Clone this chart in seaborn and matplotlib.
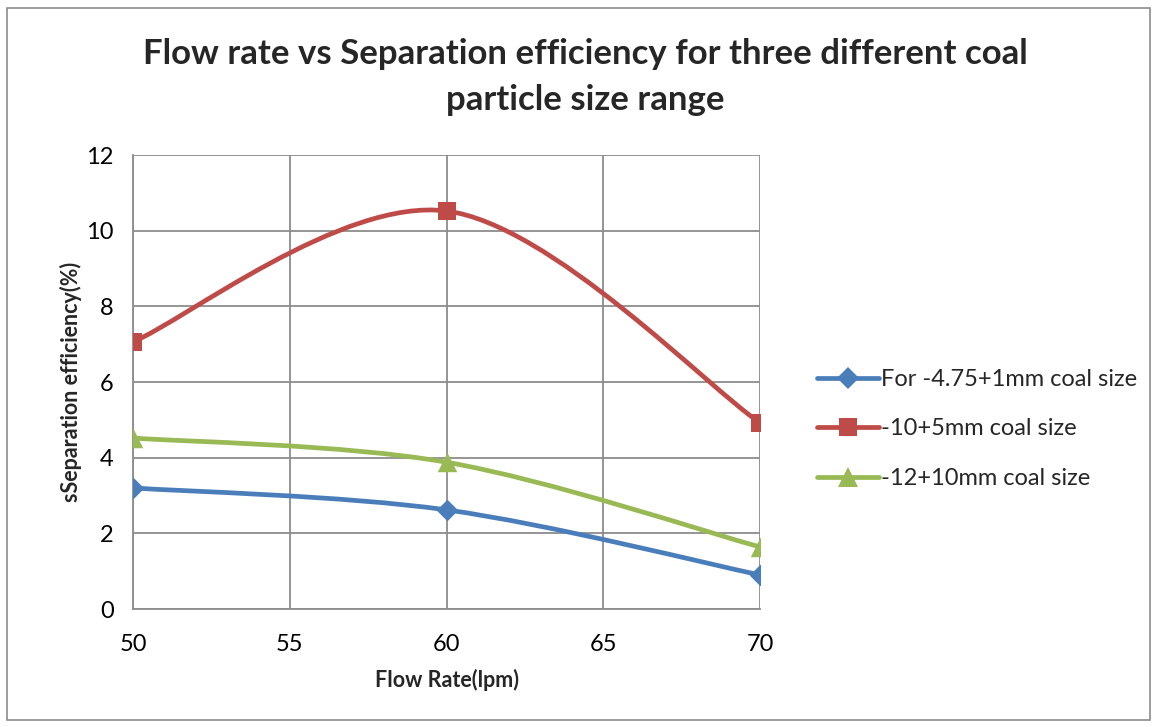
import numpy as np
import pandas as pd
import matplotlib
matplotlib.use("Agg")
import matplotlib.pyplot as plt
import seaborn as sns
from matplotlib.path import Path
from matplotlib.patches import PathPatch, Rectangle
from matplotlib.lines import Line2D

flow = [50, 60, 70]
series_names = ["For -4.75+1mm coal size", "-10+5mm coal size", "-12+10mm coal size"]
eff_small = [3.2, 2.62, 0.9]
eff_mid = [7.06, 10.52, 4.92]
eff_large = [4.52, 3.88, 1.64]
x_ticks = [50, 55, 60, 65, 70]
y_ticks = [0, 2, 4, 6, 8, 10, 12]

colors = ["#4A7EBB", "#BE4B48", "#98B954"]
markers = ["D", "s", "^"]
msizes = [11, 13, 14]

sns.set_theme(style="white")
plt.rcParams['font.family'] = ['Lato', 'DejaVu Sans']

fig = plt.figure(figsize=(11.56, 7.27), dpi=100)
ax = fig.add_axes([133/1156, 118/727, 627/1156, 454/727])

fig.patches.append(Rectangle((7/1156, 7/727), 1143/1156, 712/727, transform=fig.transFigure,
                             fill=False, edgecolor="#8c8c8c", linewidth=1.2))

def smooth_path(xs, ys):
    pts = np.column_stack([xs, ys]).astype(float)
    n = len(pts)
    verts = [pts[0]]
    codes = [Path.MOVETO]
    for i in range(n - 1):
        p0 = pts[i - 1] if i > 0 else pts[i]
        p1 = pts[i]
        p2 = pts[i + 1]
        p3 = pts[i + 2] if i + 2 < n else pts[i + 1]
        c1 = p1 + (p2 - p0) / 6.0
        c2 = p2 - (p3 - p1) / 6.0
        verts += [c1, c2, p2]
        codes += [Path.CURVE4] * 3
    return Path(verts, codes)

data = [eff_small, eff_mid, eff_large]
frames = []
for name, vals in zip(series_names, data):
    frames.append(pd.DataFrame({"flow": flow, "eff": vals, "series": name}))
df = pd.concat(frames)

for name, vals, c in zip(series_names, data, colors):
    ax.add_patch(PathPatch(smooth_path(flow, vals), facecolor="none", edgecolor=c,
                           linewidth=3.4, capstyle="round", zorder=3))

for name, c, m, ms in zip(series_names, colors, markers, msizes):
    sub = df[df["series"] == name]
    sns.scatterplot(data=sub, x="flow", y="eff", marker=m, color=c, s=ms**2,
                    edgecolor=c, linewidth=0, ax=ax, zorder=4, legend=False)

ax.set_xlim(50, 70)
ax.set_ylim(0, 12)
ax.set_xticks(x_ticks)
ax.set_yticks(y_ticks)
ax.grid(True, color="#8c8c8c", linewidth=1.3)
ax.set_axisbelow(True)
for s in ["top", "right"]:
    ax.spines[s].set_visible(False)
for s in ["left", "bottom"]:
    ax.spines[s].set_color("#8c8c8c")
    ax.spines[s].set_linewidth(1.3)
ax.tick_params(axis="both", which="both", length=6, width=1.3, color="#8c8c8c",
               labelsize=17, labelcolor="black", direction="out", pad=8)
ax.tick_params(axis="x", pad=12)
ax.set_xlabel("Flow Rate(lpm)", fontsize=15.5, fontweight="bold", labelpad=10)
ax.set_ylabel("sSeparation efficiency(%)", fontsize=15.5, fontweight="bold", labelpad=3)

fig.text(585/1156, 1 - 77/727, "Flow rate vs Separation efficiency for three different coal\nparticle size range",
         ha="center", va="center", fontsize=25, fontweight="bold", linespacing=1.5)

handles = [Line2D([0], [0], color=c, marker=m, markersize=ms, linewidth=3.4,
                  markeredgewidth=0) for c, m, ms in zip(colors, markers, msizes)]
fig.legend(handles, series_names, loc="center left", bbox_to_anchor=(796/1156, 1 - 429/727),
           frameon=False, fontsize=17, handlelength=2.6, handletextpad=0.1, labelspacing=1.2)

fig.savefig("out.png", dpi=100)
